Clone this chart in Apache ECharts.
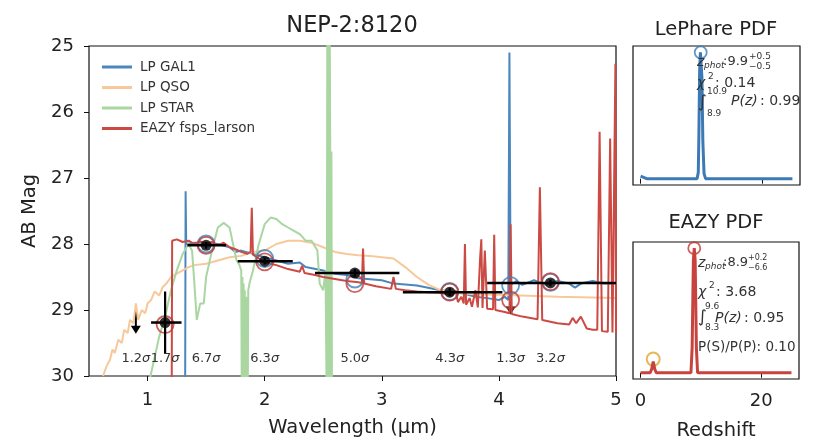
<!DOCTYPE html>
<html>
<head>
<meta charset="utf-8">
<script src="https://cdn.jsdelivr.net/npm/echarts@6/dist/echarts.min.js"></script>
<style>
  html, body { margin: 0; padding: 0; background: #fff; }
  #main { width: 817px; height: 443px; }
</style>
</head>
<body>
<div id="main"></div>
<script>
// photometry (NIRCam bands)
const photLam = [0.9, 1.15, 1.5, 2.0, 2.77, 3.58, 4.1, 4.44];
const photMag = [29.0, 29.19, 28.02, 28.26, 28.44, 28.73, 28.71, 28.59];
const photErr = [0, 0.47, 0.05, 0.05, 0.06, 0.06, 0, 0.05];
const filtLo = [0.9, 1.03, 1.34, 1.77, 2.43, 3.18, 4.1, 3.9];
const filtHi = [0.9, 1.29, 1.67, 2.24, 3.15, 4.03, 4.1, 5.0];
const upperLimit = [true, false, false, false, false, false, true, false];
const snrLabels = ['1.2', '1.7', '6.7', '6.3', '5.0', '4.3', '1.3', '3.2'];
// model photometry
const eazyModelMag = [null, 29.22, 28.02, 28.27, 28.6, 28.73, 28.85, 28.57];
const lpModelMag = [null, null, 28.0, 28.22, 28.53, 28.72, 28.63, 28.58];

// best-fit templates [wavelength, AB mag]
const lpGal = [[0.5, 31], [1.32, 31], [1.325, 27.2], [1.33, 28.0], [1.4, 27.98], [1.5, 27.98], [1.6, 28.0],
  [1.7, 28.05], [1.75, 28.12], [1.8, 28.1], [1.9, 28.15], [2.0, 28.2], [2.1, 28.25], [2.2, 28.3], [2.3, 28.28],
  [2.35, 28.35], [2.5, 28.4], [2.6, 28.45], [2.7, 28.47], [2.8, 28.52], [3.0, 28.55], [3.1, 28.6], [3.3, 28.63],
  [3.5, 28.7], [3.7, 28.75], [3.8, 28.8], [3.9, 28.82], [4.0, 28.85], [4.05, 28.8], [4.08, 28.85], [4.09, 25.1],
  [4.1, 28.62], [4.15, 28.56], [4.2, 28.62], [4.3, 28.55], [4.4, 28.62], [4.5, 28.56], [4.6, 28.6], [4.65, 28.66],
  [4.7, 28.6], [4.8, 28.56], [4.9, 28.6], [5.0, 28.6]];
const lpQso = [[0.62, 30.0], [0.65, 29.85], [0.68, 29.75], [0.7, 29.6], [0.72, 29.65], [0.75, 29.45], [0.78, 29.5],
  [0.8, 29.3], [0.83, 29.35], [0.85, 29.15], [0.88, 29.2], [0.9, 28.9], [0.92, 29.15], [0.95, 29.0], [0.98, 29.05],
  [1.0, 28.9], [1.03, 28.85], [1.06, 28.72], [1.1, 28.78], [1.13, 28.65], [1.16, 28.6], [1.2, 28.5], [1.25, 28.45],
  [1.3, 28.4], [1.35, 28.35], [1.4, 28.32], [1.5, 28.3], [1.6, 28.25], [1.7, 28.2], [1.8, 28.18], [1.9, 28.12],
  [2.0, 28.1], [2.1, 28.0], [2.2, 27.95], [2.3, 27.95], [2.4, 27.98], [2.5, 28.05], [2.6, 28.12], [2.7, 28.15],
  [2.8, 28.17], [2.9, 28.18], [3.0, 28.2], [3.1, 28.22], [3.2, 28.35], [3.3, 28.5], [3.4, 28.62], [3.5, 28.7],
  [3.6, 28.74], [3.8, 28.76], [4.0, 28.77], [4.5, 28.8], [5.0, 28.82]];
const lpStar = [[1.0, 30.2], [1.05, 29.8], [1.1, 29.4], [1.15, 29.1], [1.2, 28.7], [1.25, 28.4], [1.3, 28.15],
  [1.35, 28.0], [1.38, 28.1], [1.4, 28.6], [1.42, 29.15], [1.45, 28.9], [1.48, 28.9], [1.5, 28.5], [1.55, 28.1],
  [1.6, 27.75], [1.65, 27.68], [1.7, 27.75], [1.73, 28.0], [1.76, 28.25], [1.78, 28.3], [1.8, 28.4],
  [1.805, 30.5], [1.81, 28.5], [1.815, 30.5], [1.82, 28.6], [1.825, 30.5], [1.83, 28.7], [1.835, 30.5],
  [1.84, 28.8], [1.845, 30.5], [1.85, 28.8], [1.855, 30.5], [1.86, 28.7], [1.87, 28.6], [1.9, 28.4],
  [1.95, 28.0], [2.0, 27.7], [2.05, 27.6], [2.1, 27.62], [2.15, 27.7], [2.2, 27.75], [2.25, 27.8], [2.3, 27.85],
  [2.35, 27.95], [2.4, 27.95], [2.45, 28.1], [2.47, 28.6], [2.5, 28.7], [2.52, 28.4], [2.53, 30.5],
  [2.535, 24.5], [2.54, 30.5], [2.545, 24.5], [2.55, 30.5], [2.555, 24.5], [2.56, 26.6], [2.565, 30.5],
  [2.57, 26.6], [2.575, 30.5]];
const eazySed = [[0.5, 31], [1.205, 31], [1.21, 27.95], [1.25, 27.93], [1.3, 27.97], [1.35, 27.95], [1.4, 28.0],
  [1.45, 27.96], [1.5, 28.0], [1.55, 27.97], [1.6, 28.02], [1.65, 27.98], [1.7, 28.05], [1.75, 28.08], [1.8, 28.12],
  [1.85, 28.15], [1.88, 28.12], [1.89, 27.45], [1.9, 28.16], [1.95, 28.22], [2.0, 28.28], [2.1, 28.32],
  [2.2, 28.38], [2.3, 28.42], [2.32, 28.33], [2.34, 28.44], [2.43, 28.47], [2.5, 28.5], [2.6, 28.53],
  [2.7, 28.56], [2.8, 28.58], [2.83, 28.59], [2.84, 28.07], [2.85, 28.6], [2.95, 28.64], [3.08, 28.68],
  [3.1, 28.5], [3.12, 28.68], [3.2, 28.7], [3.3, 28.72], [3.4, 28.73], [3.5, 28.74], [3.6, 28.78], [3.63, 28.7],
  [3.65, 28.88], [3.68, 28.8], [3.7, 28.9], [3.71, 28.0], [3.72, 28.92], [3.75, 28.82], [3.77, 28.95],
  [3.8, 28.7], [3.82, 28.96], [3.84, 28.2], [3.85, 27.93], [3.86, 28.97], [3.88, 28.1], [3.9, 28.98],
  [3.95, 28.99], [3.96, 27.86], [3.97, 29.0], [4.05, 29.03], [4.09, 29.05], [4.1, 27.7], [4.11, 29.06],
  [4.2, 29.1], [4.33, 29.14], [4.35, 27.14], [4.37, 29.15], [4.5, 29.2], [4.6, 29.22], [4.63, 29.12],
  [4.66, 29.2], [4.7, 29.1], [4.75, 29.28], [4.8, 29.3], [4.84, 29.3], [4.86, 26.3], [4.88, 29.32],
  [4.93, 29.33], [4.95, 26.4], [4.97, 29.34], [4.98, 29.35], [4.995, 25.27], [5.0, 29.35]];

// redshift PDFs [z, P]
const lpPdf = [[0, 0.02], [0.3, 0.005], [1, 0], [9.3, 0], [9.5, 0.05], [9.6, 0.35], [9.72, 0.85], [9.85, 1.0],
  [9.95, 1.0], [10.1, 0.8], [10.25, 0.3], [10.45, 0.04], [10.7, 0], [25, 0]];
const eazyPdf = [[0, 0], [1.6, 0], [1.85, 0.03], [2.1, 0.09], [2.35, 0.03], [2.6, 0], [8.35, 0], [8.55, 0.2],
  [8.75, 0.9], [8.9, 1.0], [9.05, 0.9], [9.25, 0.2], [9.45, 0], [25, 0]];
const lpPeak = [[9.9, 1.0]];
const eazyPeaks = [[8.9, 1.0]];
const eazyAlt = [[2.1, 0.11]];

const FONT = '"DejaVu Sans", sans-serif';
const TXT = '#222';

const chart = echarts.init(document.getElementById('main'), null, { renderer: 'canvas' });

const detIdx = photLam.map((_, i) => i).filter(i => !upperLimit[i]);
const limIdx = photLam.map((_, i) => i).filter(i => upperLimit[i]);

function txt(x, y, text, size, extra) {
  return Object.assign({
    type: 'text', x: x, y: y, z: 100,
    style: { text: text, font: size + 'px ' + FONT, fill: '#333', verticalAlign: 'middle' }
  }, extra || {});
}
function itxt(x, y, text, size) {
  const e = txt(x, y, text, size);
  e.style.font = 'italic ' + size + 'px ' + FONT;
  return e;
}
function title(x, y, text, size) {
  return {
    type: 'text', x: x, y: y, z: 100,
    style: { text: text, font: size + 'px ' + FONT, fill: TXT, align: 'center', verticalAlign: 'middle' }
  };
}

var option = {
  animation: false,
  backgroundColor: '#fff',
  textStyle: { fontFamily: FONT },
  grid: [
    { left: 89, top: 46, width: 527, height: 334, show: true, borderColor: '#111', borderWidth: 1.2 },
    { left: 633, top: 46, width: 167, height: 139, show: true, borderColor: '#111', borderWidth: 1.2 },
    { left: 633, top: 242, width: 166, height: 137, show: true, borderColor: '#111', borderWidth: 1.2 }
  ],
  legend: {
    data: ['LP GAL1', 'LP QSO', 'LP STAR', 'EAZY fsps_larson'],
    orient: 'vertical',
    left: 97, top: 55,
    itemWidth: 30, itemHeight: 3, itemGap: 6.5,
    icon: 'rect',
    selectedMode: false,
    textStyle: { fontSize: 13.5, color: '#333', fontFamily: FONT, padding: [0, 0, 0, 3] }
  },
  xAxis: [
    {
      type: 'value', gridIndex: 0, min: 0.5, max: 5,
      name: 'Wavelength (μm)', nameLocation: 'middle', nameGap: 42,
      nameTextStyle: { fontSize: 19.5, color: TXT, fontFamily: FONT },
      axisLine: { show: false },
      axisTick: { show: true, length: 5, lineStyle: { color: '#111' }, customValues: [1, 2, 3, 4, 5] },
      axisLabel: { fontSize: 18, color: TXT, margin: 15, customValues: [1, 2, 3, 4, 5] },
      splitLine: { show: false }
    },
    {
      type: 'value', gridIndex: 1, min: -1.25, max: 26.25,
      axisLine: { show: false },
      axisTick: { show: true, length: 5, lineStyle: { color: '#111' }, customValues: [0, 20] },
      axisLabel: { show: false },
      splitLine: { show: false }
    },
    {
      type: 'value', gridIndex: 2, min: -1.25, max: 26.25,
      name: 'Redshift', nameLocation: 'middle', nameGap: 42,
      nameTextStyle: { fontSize: 19.5, color: TXT, fontFamily: FONT },
      axisLine: { show: false },
      axisTick: { show: true, length: 5, lineStyle: { color: '#111' }, customValues: [0, 20] },
      axisLabel: { fontSize: 18, color: TXT, margin: 13, customValues: [0, 20] },
      splitLine: { show: false }
    }
  ],
  yAxis: [
    {
      type: 'value', gridIndex: 0, min: 25, max: 30, interval: 1, inverse: true,
      name: 'AB Mag', nameLocation: 'middle', nameGap: 49, nameRotate: 90,
      nameTextStyle: { fontSize: 19.5, color: TXT, fontFamily: FONT },
      axisLine: { show: false },
      axisTick: { show: true, length: 5, lineStyle: { color: '#111' } },
      axisLabel: { fontSize: 18, color: TXT, margin: 15 },
      splitLine: { show: false }
    },
    { type: 'value', gridIndex: 1, min: -0.05, max: 1.05, show: false, splitLine: { show: false } },
    { type: 'value', gridIndex: 2, min: -0.05, max: 1.05, show: false, splitLine: { show: false } }
  ],
  series: [
    {
      name: 'limits', type: 'custom', xAxisIndex: 0, yAxisIndex: 0, z: 1,
      data: limIdx.map(i => [photLam[i], photMag[i]]),
      renderItem: function (params, api) {
        const p0 = api.coord([api.value(0), api.value(1)]);
        const p1 = api.coord([api.value(0), api.value(1) + 0.36]);
        return {
          type: 'group', children: [
            { type: 'line', shape: { x1: p0[0], y1: p0[1], x2: p1[0], y2: p1[1] - 6 }, style: { stroke: '#000', lineWidth: 2 } },
            { type: 'polygon', shape: { points: [[p1[0] - 5, p1[1] - 8], [p1[0] + 5, p1[1] - 8], [p1[0], p1[1]]] }, style: { fill: '#000' } }
          ]
        };
      }
    },
    {
      name: 'LP GAL1', type: 'line', xAxisIndex: 0, yAxisIndex: 0, data: lpGal, showSymbol: false, z: 2,
      color: '#4b87bd', lineStyle: { width: 2, color: '#4b87bd' }
    },
    {
      name: 'LP QSO', type: 'line', xAxisIndex: 0, yAxisIndex: 0, data: lpQso, showSymbol: false, z: 2,
      color: '#f7c899', lineStyle: { width: 2, color: '#f7c899' }
    },
    {
      name: 'LP STAR', type: 'line', xAxisIndex: 0, yAxisIndex: 0, data: lpStar, showSymbol: false, z: 2,
      color: '#a9d6a1', lineStyle: { width: 2, color: '#a9d6a1' }
    },
    {
      name: 'EAZY fsps_larson', type: 'line', xAxisIndex: 0, yAxisIndex: 0, data: eazySed, showSymbol: false, z: 3,
      color: '#cc4a44', lineStyle: { width: 2, color: '#cc4a44' }
    },
    {
      name: 'LP model phot', type: 'scatter', xAxisIndex: 0, yAxisIndex: 0, z: 4,
      data: photLam.map((l, i) => [l, lpModelMag[i]]).filter(d => d[1] !== null),
      symbolSize: 17,
      itemStyle: { color: 'rgba(0,0,0,0)', borderColor: '#3f7fb8', borderWidth: 1.8 }
    },
    {
      name: 'EAZY model phot', type: 'scatter', xAxisIndex: 0, yAxisIndex: 0, z: 4,
      data: photLam.map((l, i) => [l, eazyModelMag[i]]).filter(d => d[1] !== null),
      symbolSize: 17,
      itemStyle: { color: 'rgba(0,0,0,0)', borderColor: '#c03a35', borderWidth: 1.8 }
    },
    {
      name: 'errors', type: 'custom', xAxisIndex: 0, yAxisIndex: 0, z: 5,
      data: detIdx.map(i => [photLam[i], photMag[i], filtLo[i], filtHi[i], photErr[i]]),
      renderItem: function (params, api) {
        const x = api.value(0), y = api.value(1), e = api.value(4);
        const a = api.coord([api.value(2), y]), b = api.coord([api.value(3), y]);
        const c = api.coord([x, y - e]), d = api.coord([x, y + e]);
        return {
          type: 'group', children: [
            { type: 'line', shape: { x1: a[0], y1: a[1], x2: b[0], y2: b[1] }, style: { stroke: '#000', lineWidth: 2.5 } },
            { type: 'line', shape: { x1: c[0], y1: c[1], x2: d[0], y2: d[1] }, style: { stroke: '#000', lineWidth: 2.2 } }
          ]
        };
      }
    },
    {
      name: 'phot', type: 'scatter', xAxisIndex: 0, yAxisIndex: 0, z: 6,
      data: detIdx.map(i => [photLam[i], photMag[i]]),
      symbolSize: 11, itemStyle: { color: '#000' }
    },
    {
      name: 'snr', type: 'custom', xAxisIndex: 0, yAxisIndex: 0, z: 6,
      data: photLam.map((l, i) => [l, 29.73, i]),
      renderItem: function (params, api) {
        const p = api.coord([api.value(0), api.value(1)]);
        return {
          type: 'text', x: p[0], y: p[1],
          style: {
            text: '{n|' + snrLabels[api.value(2)] + '}{s|σ}',
            align: 'center', verticalAlign: 'middle',
            rich: {
              n: { fontSize: 13, fontFamily: FONT, fill: '#333' },
              s: { fontSize: 13, fontFamily: FONT, fontStyle: 'italic', fill: '#333' }
            }
          }
        };
      }
    },
    {
      name: 'LePhare PDF', type: 'line', xAxisIndex: 1, yAxisIndex: 1, data: lpPdf, showSymbol: false,
      lineStyle: { width: 3, color: '#3d7ab5' }
    },
    {
      name: 'LP peak', type: 'scatter', xAxisIndex: 1, yAxisIndex: 1, data: lpPeak, symbolSize: 12,
      itemStyle: { color: 'rgba(0,0,0,0)', borderColor: '#3d7ab5', borderWidth: 1.8 }
    },
    {
      name: 'EAZY PDF', type: 'line', xAxisIndex: 2, yAxisIndex: 2, data: eazyPdf, showSymbol: false,
      lineStyle: { width: 3, color: '#c8433d' }
    },
    {
      name: 'EAZY peak', type: 'scatter', xAxisIndex: 2, yAxisIndex: 2, data: eazyPeaks, symbolSize: 12,
      itemStyle: { color: 'rgba(0,0,0,0)', borderColor: '#c03a35', borderWidth: 1.8 }
    },
    {
      name: 'EAZY alt', type: 'scatter', xAxisIndex: 2, yAxisIndex: 2, data: eazyAlt, symbolSize: 13,
      itemStyle: { color: 'rgba(0,0,0,0)', borderColor: '#e0a532', borderWidth: 2 }
    }
  ],
  graphic: [
    title(352, 26, 'NEP-2:8120', 22.5),
    title(716, 30, 'LePhare PDF', 19.5),
    title(716, 223, 'EAZY PDF', 19.5),
    // LePhare annotations
    itxt(697, 62, 'z', 14), itxt(704, 66, 'phot', 9), txt(723, 62, ':9.9', 13),
    txt(749, 57, '+0.5', 9), txt(749, 67, '−0.5', 9),
    itxt(697, 83, 'χ', 14), txt(708, 77, '2', 9), txt(715, 83, ': 0.14', 14),
    txt(698, 103, '∫', 17), txt(707, 92, '10.9', 9), txt(707, 114, '8.9', 9),
    itxt(731, 101, 'P(z)', 14), txt(760, 101, ': 0.99', 14),
    // EAZY annotations
    itxt(698, 263, 'z', 14), itxt(705, 267, 'phot', 9), txt(723, 263, ':8.9', 13),
    txt(748, 258, '+0.2', 8), txt(748, 268, '−6.6', 8),
    itxt(698, 292, 'χ', 14), txt(709, 286, '2', 9), txt(716, 292, ': 3.68', 14),
    txt(698, 318, '∫', 17), txt(705, 307, '9.6', 9), txt(705, 328, '8.3', 9),
    itxt(715, 318, 'P(z)', 14), txt(744, 318, ': 0.95', 14),
    txt(698, 347, 'P(S)/P(P): 0.10', 13.5)
  ]
};

chart.setOption(option);
</script>
</body>
</html>
